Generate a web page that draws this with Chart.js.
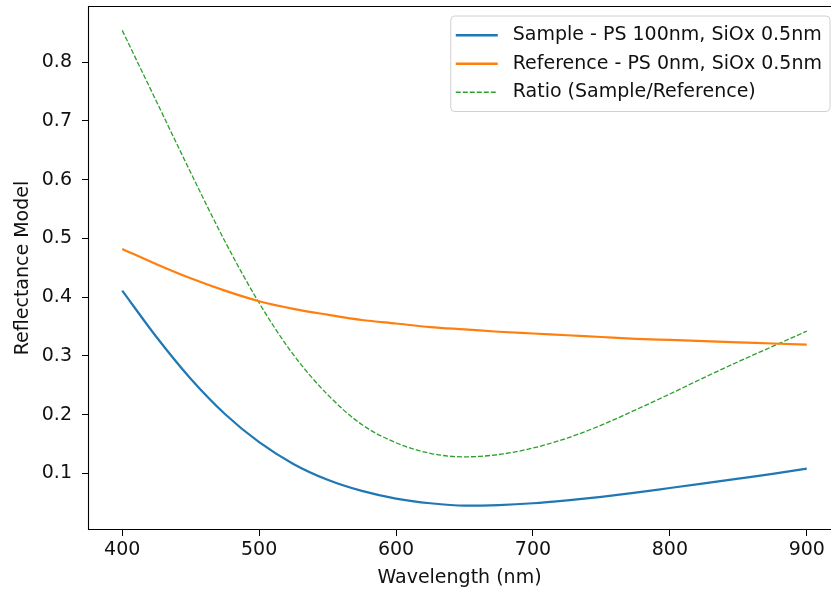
<!DOCTYPE html>
<html>
<head>
<meta charset="utf-8">
<script src="https://cdn.jsdelivr.net/npm/chart.js@4"></script>
<style>
  html, body { margin: 0; padding: 0; background: #fff; overflow: hidden; width: 831px; height: 591px; }
  #c { display: block; width: 831px; height: 591px; }
</style>
</head>
<body>
<canvas id="c" width="831" height="591"></canvas>
<script>
// ---- data ----
const wavelengths = [400, 425, 450, 475, 500, 525, 550, 575, 600, 625, 650, 675, 700, 725, 750, 775, 800, 825, 850, 875, 900];
const sampleValues = [0.411, 0.332, 0.261, 0.201, 0.153, 0.116, 0.089, 0.070, 0.057, 0.049, 0.045, 0.046, 0.049, 0.054, 0.060, 0.067, 0.075, 0.083, 0.091, 0.099, 0.108];
const referenceValues = [0.482, 0.456, 0.432, 0.411, 0.393, 0.380, 0.370, 0.361, 0.355, 0.349, 0.345, 0.341, 0.338, 0.335, 0.332, 0.329, 0.327, 0.325, 0.323, 0.321, 0.319];
const ratioValues = [0.854, 0.733, 0.612, 0.495, 0.390, 0.302, 0.234, 0.183, 0.152, 0.134, 0.128, 0.132, 0.143, 0.160, 0.182, 0.208, 0.235, 0.263, 0.290, 0.316, 0.342];
const seriesLabels = ['Sample - PS 100nm, SiOx 0.5nm', 'Reference - PS 0nm, SiOx 0.5nm', 'Ratio (Sample/Reference)'];
const xTickValues = [400, 500, 600, 700, 800, 900];
const yTickValues = [0.1, 0.2, 0.3, 0.4, 0.5, 0.6, 0.7, 0.8];
const xTitle = 'Wavelength (nm)';
const yTitle = 'Reflectance Model';

const FONT = '"DejaVu Sans", sans-serif';
const FS = 19;
const toXY = (vals) => wavelengths.map((w, i) => ({ x: w, y: vals[i] }));

const frameAndLegend = {
  id: 'frameAndLegend',
  afterDatasetsDraw(chart) {
    const ctx = chart.ctx, ca = chart.chartArea;
    ctx.save();
    ctx.strokeStyle = '#000';
    ctx.lineWidth = 1.1;
    ctx.beginPath();
    ctx.moveTo(ca.right + 5, ca.top + 0.5);
    ctx.lineTo(ca.left + 0.5, ca.top + 0.5);
    ctx.lineTo(ca.left + 0.5, ca.bottom - 0.5);
    ctx.lineTo(ca.right + 5, ca.bottom - 0.5);
    ctx.stroke();

    ctx.font = FS + 'px ' + FONT;
    const ds = chart.data.datasets;
    let maxW = 0;
    ds.forEach(d => { maxW = Math.max(maxW, ctx.measureText(d.label).width); });
    const padL = 5, handle = 42, gap = 15, padR = 8, rowH = 28.5, padT = 3;
    const boxW = padL + handle + gap + maxW + padR;
    const boxH = padT * 2 + rowH * ds.length + 4;
    const right = ca.right - 1, top = ca.top + 10;
    const left = right - boxW;
    ctx.beginPath();
    ctx.roundRect(left, top, boxW, boxH, 4);
    ctx.fillStyle = 'rgba(255,255,255,0.8)';
    ctx.fill();
    ctx.strokeStyle = '#d0d0d0';
    ctx.lineWidth = 1;
    ctx.stroke();
    ds.forEach((d, i) => {
      const cy = top + padT + rowH * i + rowH / 2 + 2;
      ctx.beginPath();
      ctx.setLineDash(d.borderDash || []);
      ctx.strokeStyle = d.borderColor;
      ctx.lineWidth = d.borderWidth + 0.4;
      ctx.moveTo(left + padL, cy);
      ctx.lineTo(left + padL + handle, cy);
      ctx.stroke();
      ctx.setLineDash([]);
      ctx.fillStyle = '#111';
      ctx.textAlign = 'left';
      ctx.textBaseline = 'middle';
      ctx.fillText(d.label, left + padL + handle + gap, cy);
    });
    ctx.restore();
  }
};

new Chart(document.getElementById('c'), {
  type: 'line',
  data: {
    datasets: [
      { label: seriesLabels[0], data: toXY(sampleValues), borderColor: '#1f77b4', borderWidth: 2.2, pointRadius: 0, cubicInterpolationMode: 'monotone', fill: false },
      { label: seriesLabels[1], data: toXY(referenceValues), borderColor: '#ff7f0e', borderWidth: 2.2, pointRadius: 0, cubicInterpolationMode: 'monotone', fill: false },
      { label: seriesLabels[2], data: toXY(ratioValues), borderColor: '#2ca02c', borderWidth: 1.3, borderDash: [5, 2], pointRadius: 0, cubicInterpolationMode: 'monotone', fill: false }
    ]
  },
  options: {
    responsive: false,
    animation: false,
    events: [],
    layout: { padding: { top: 6, right: 0, left: 0, bottom: 0 } },
    plugins: { legend: { display: false }, tooltip: { enabled: false } },
    scales: {
      x: {
        type: 'linear',
        min: 375, max: 917.7,
        afterBuildTicks: (s) => { s.ticks = xTickValues.map(v => ({ value: v })); },
        afterFit: (s) => { s.height = 61; s.paddingLeft = 0; s.paddingRight = 0; },
        grid: { display: true, drawOnChartArea: false, drawTicks: true, tickLength: 6, tickColor: '#000', tickWidth: 1 },
        border: { display: false },
        ticks: { color: '#111', font: { family: FONT, size: FS }, padding: 3, maxRotation: 0, callback: (v) => String(v) },
        title: { display: true, text: xTitle, color: '#111', font: { family: FONT, size: FS }, padding: { top: 0, bottom: 2 } }
      },
      y: {
        type: 'linear',
        min: 0.0035, max: 0.8955,
        afterBuildTicks: (s) => { s.ticks = yTickValues.map(v => ({ value: v })); },
        afterFit: (s) => { s.width = 88; s.paddingTop = 0; s.paddingBottom = 0; },
        grid: { display: true, drawOnChartArea: false, drawTicks: true, tickLength: 6, tickColor: '#000', tickWidth: 1 },
        border: { display: false },
        ticks: { color: '#111', font: { family: FONT, size: FS }, padding: 10, callback: (v) => Number(v).toFixed(1) },
        title: { display: true, text: yTitle, color: '#111', font: { family: FONT, size: FS }, padding: { top: 12, bottom: 0 } }
      }
    }
  },
  plugins: [frameAndLegend]
});
</script>
</body>
</html>
